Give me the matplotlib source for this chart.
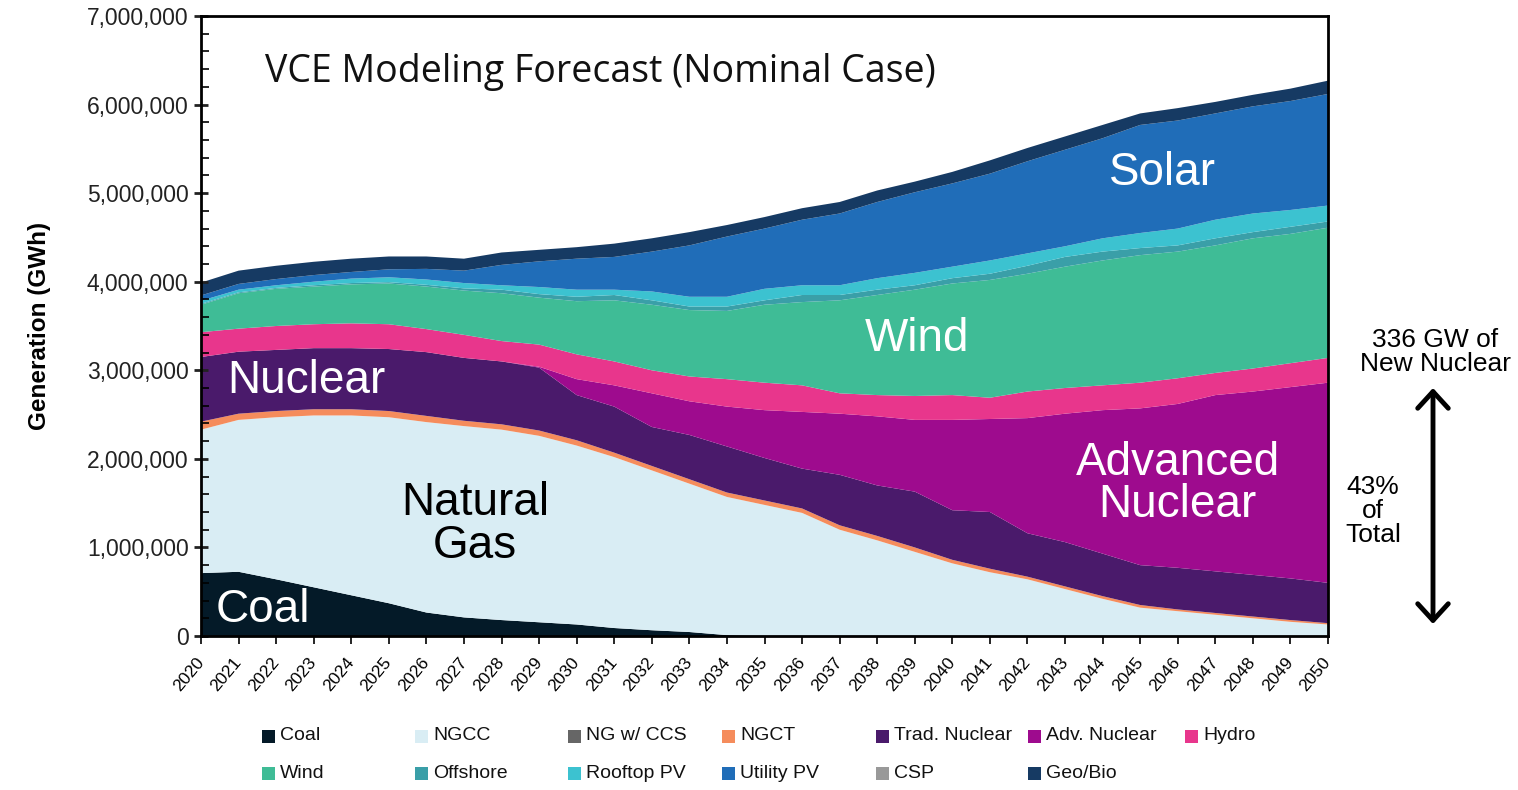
import matplotlib
matplotlib.use("Agg")
import matplotlib.pyplot as plt
from matplotlib.patches import Rectangle
from matplotlib.ticker import MultipleLocator, FuncFormatter

years = list(range(2020, 2051))

coal = [710000, 725000, 640000, 550000, 460000, 370000, 265000, 210000, 180000, 155000,
        130000, 90000, 65000, 45000, 10000, 0, 0, 0, 0, 0,
        0, 0, 0, 0, 0, 0, 0, 0, 0, 0, 0]
ngcc = [1620000, 1715000, 1830000, 1940000, 2030000, 2100000, 2150000, 2160000, 2150000, 2105000,
        2020000, 1930000, 1805000, 1675000, 1560000, 1480000, 1390000, 1200000, 1080000, 950000,
        820000, 720000, 640000, 530000, 420000, 320000, 280000, 240000, 200000, 160000, 130000]
ng_ccs = [0] * 31
ngct = [90000, 70000, 70000, 70000, 70000, 70000, 70000, 60000, 60000, 60000,
        60000, 50000, 50000, 50000, 50000, 50000, 50000, 50000, 50000, 50000,
        40000, 40000, 30000, 30000, 30000, 30000, 20000, 20000, 20000, 20000, 15000]
trad_nuclear = [730000, 700000, 690000, 690000, 690000, 700000, 720000, 710000, 710000, 710000,
                510000, 520000, 440000, 500000, 520000, 480000, 450000, 570000, 570000, 630000,
                560000, 640000, 490000, 500000, 480000, 450000, 470000, 470000, 470000, 470000, 455000]
adv_nuclear = [0, 0, 0, 0, 0, 0, 0, 0, 0, 10000,
               180000, 240000, 380000, 380000, 450000, 540000, 640000, 690000, 780000, 810000,
               1020000, 1050000, 1300000, 1450000, 1620000, 1770000, 1850000, 1990000, 2070000, 2160000, 2260000]
hydro = [280000, 260000, 270000, 270000, 280000, 280000, 260000, 260000, 230000, 250000,
         280000, 270000, 260000, 280000, 310000, 310000, 300000, 230000, 240000, 270000,
         280000, 240000, 300000, 290000, 280000, 290000, 290000, 250000, 260000, 270000, 280000]
wind = [310000, 400000, 420000, 425000, 440000, 460000, 480000, 500000, 540000, 530000,
        600000, 690000, 740000, 750000, 770000, 880000, 940000, 1050000, 1130000, 1200000,
        1260000, 1330000, 1330000, 1370000, 1410000, 1440000, 1430000, 1440000, 1470000, 1460000, 1470000]
offshore = [10000, 10000, 10000, 15000, 15000, 15000, 20000, 25000, 40000, 40000,
            50000, 60000, 50000, 40000, 50000, 50000, 80000, 60000, 60000, 50000,
            60000, 70000, 90000, 110000, 100000, 80000, 70000, 80000, 70000, 80000, 70000]
rooftop_pv = [35000, 30000, 30000, 40000, 50000, 55000, 60000, 60000, 50000, 80000,
              80000, 60000, 100000, 110000, 110000, 130000, 110000, 110000, 130000, 140000,
              130000, 150000, 140000, 120000, 150000, 170000, 190000, 210000, 210000, 190000, 180000]
utility_pv = [60000, 65000, 70000, 75000, 75000, 90000, 120000, 140000, 230000, 290000,
              350000, 370000, 450000, 580000, 680000, 680000, 740000, 810000, 860000, 910000,
              940000, 980000, 1040000, 1090000, 1130000, 1220000, 1220000, 1200000, 1210000, 1230000, 1260000]
csp = [0] * 31
geo_bio = [145000, 150000, 150000, 150000, 150000, 145000, 140000, 135000, 140000, 130000,
           130000, 150000, 150000, 150000, 130000, 130000, 130000, 130000, 130000, 120000,
           130000, 150000, 150000, 150000, 150000, 130000, 140000, 130000, 130000, 140000, 150000]

series_names = ["Coal", "NGCC", "NG w/ CCS", "NGCT", "Trad. Nuclear", "Adv. Nuclear", "Hydro",
                "Wind", "Offshore", "Rooftop PV", "Utility PV", "CSP", "Geo/Bio"]
series_values = [coal, ngcc, ng_ccs, ngct, trad_nuclear, adv_nuclear, hydro,
                 wind, offshore, rooftop_pv, utility_pv, csp, geo_bio]
series_colors = ["#041a28", "#d9edf4", "#666666", "#f58c5c", "#4a1a6b", "#9e0b8e", "#e8368c",
                 "#3fbc96", "#3a9fa8", "#3cc2d0", "#206db8", "#999999", "#163a63"]

plt.rcParams['font.family'] = ['Liberation Sans', 'DejaVu Sans']

fig = plt.figure(figsize=(15.18, 7.90), dpi=100)
ax = fig.add_axes([201 / 1518, 1 - 636 / 790, (1328 - 201) / 1518, (636 - 16) / 790])

ax.stackplot(years, *series_values, colors=series_colors, labels=series_names, linewidth=0)

ax.set_xlim(2020, 2050)
ax.set_ylim(0, 7000000)
ax.set_xticks(years)
ax.set_xticklabels([str(y) for y in years], rotation=50, ha='right', va='center',
                   rotation_mode='anchor', fontsize=12.5)
ax.yaxis.set_major_locator(MultipleLocator(1000000))
ax.yaxis.set_minor_locator(MultipleLocator(200000))
ax.yaxis.set_major_formatter(FuncFormatter(lambda v, p: f"{int(v):,}"))
ax.tick_params(axis='y', which='major', direction='inout', length=10, width=2, labelsize=16.5, pad=4, colors='#222222')
ax.tick_params(axis='y', which='minor', direction='in', length=6, width=1.2)
ax.tick_params(axis='x', which='major', direction='out', length=6, width=1.2, pad=11)
for s in ax.spines.values():
    s.set_linewidth(2)
ax.set_ylabel("Generation (GWh)", fontsize=17.5, fontweight='bold', labelpad=26)

# title-like annotation
ax.text(265 / 1518, 1 - 72 / 790, "VCE Modeling Forecast (Nominal Case)", transform=fig.transFigure,
        family=['Open Sans', 'DejaVu Sans'], fontsize=27, ha='left', va='center', color='#111111')

big = 33
ax.text(2022.8, 2880000, "Nuclear", fontsize=big, color='white', ha='center', va='center')
ax.text(2021.65, 290000, "Coal", fontsize=big, color='white', ha='center', va='center')
ax.text(2027.3, 1260000, "Natural\nGas", fontsize=big, color='black', ha='center', va='center', linespacing=0.95)
ax.text(2039.05, 3350000, "Wind", fontsize=big, color='white', ha='center', va='center')
ax.text(2045.6, 5230000, "Solar", fontsize=big, color='white', ha='center', va='center')
ax.text(2046.0, 1720000, "Advanced\nNuclear", fontsize=big, color='white', ha='center', va='center', linespacing=0.95)

# right annotations
fig.text(1435 / 1518, 1 - 352 / 790, "336 GW of\nNew Nuclear", fontsize=19, ha='center', va='center', linespacing=1.02)
fig.text(1373 / 1518, 1 - 511 / 790, "43%\nof\nTotal", fontsize=19, ha='center', va='center', linespacing=1.02)
ax.annotate("", xy=(1433 / 1518, 1 - 388 / 790), xytext=(1433 / 1518, 1 - 624 / 790),
            xycoords='figure fraction', textcoords='figure fraction',
            arrowprops=dict(arrowstyle='<->,head_length=0.6,head_width=0.55', lw=3.5,
                            color='black', mutation_scale=20, shrinkA=0, shrinkB=0))

# legend (manual grid)
col_x = [262, 415, 568, 722, 876, 1028, 1185]
row_y = [736, 773]
for i, (name, color) in enumerate(zip(series_names, series_colors)):
    r, c = divmod(i, 7)
    x0 = col_x[c]
    y0 = row_y[r]
    fig.patches.append(Rectangle((x0 / 1518, 1 - (y0 + 6.5) / 790), 13 / 1518, 13 / 790,
                                 transform=fig.transFigure, facecolor=color, edgecolor='none'))
    fig.text((x0 + 18) / 1518, 1 - y0 / 790, name, fontsize=14, ha='left', va='center', color='#111111')

fig.savefig("out.png", dpi=100)
